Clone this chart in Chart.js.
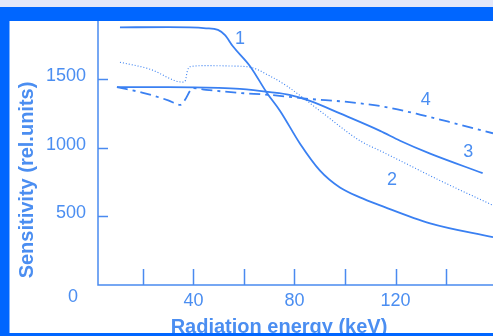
<!DOCTYPE html>
<html>
<head>
<meta charset="utf-8">
<script src="https://cdn.jsdelivr.net/npm/chart.js@4.4.0/dist/chart.umd.min.js"></script>
<style>
    html, body { margin: 0; padding: 0; background: #fff; }
    #wrap { width: 493px; height: 336px; position: relative; }
</style>
</head>
<body>
<div id="wrap"><canvas id="myChart"></canvas></div>
<script>
// curve 1 - solid, falls off after 50 keV
const energy1 = [10.9, 30, 45, 49.7, 52.5, 55.6, 62.4, 69.1, 74.3, 82.2, 90.1, 98, 105.9, 113.9, 133.7, 158.6];
const sens1 = [1877, 1878, 1870, 1858, 1820, 1739, 1594, 1399, 1268, 1029, 833, 710, 638, 580, 449, 348];

// dotted curve, with the edge near 37 keV
const energy2 = [10.9, 22.8, 35.8, 36.8, 37.6, 38.6, 45, 55, 62.4, 70.3, 77, 90.1, 105.9, 113.9, 121.8, 137.6, 158.6];
const sens2 = [1623, 1572, 1478, 1490, 1560, 1590, 1598, 1595, 1587, 1522, 1449, 1268, 1051, 978, 906, 761, 580];

// curve 3 - solid
const energy3 = [9.7, 30, 50, 58.4, 70.3, 78, 86.1, 98, 113.9, 121.8, 133.7, 154.5];
const sens3 = [1442, 1442, 1436, 1428, 1405, 1385, 1341, 1250, 1123, 1051, 957, 815];

// curve 4 - dash dot
const energy4 = [9.7, 20, 30, 34.7, 36.5, 39.8, 45, 58.4, 70, 86.1, 100, 115, 130, 145, 158.6];
const sens4 = [1442, 1400, 1345, 1312, 1345, 1435, 1422, 1399, 1385, 1355, 1335, 1300, 1240, 1170, 1105];

const yTicks = [500, 1000, 1500];
const xTicks = [20, 40, 60, 80, 100, 120, 140];
const xLabels = [40, 80, 120];

const curveLabels = ['1', '2', '3', '4'];
const labelAt = [[58.4, 1790], [118.6, 765], [148.8, 970], [132, 1345]];

const lineColor = '#3a80f2';
const textColor = '#4b8ef1';
const font = '"Liberation Sans", Arial, sans-serif';

function pts(xs, ys) {
    return xs.map((x, i) => ({x: x, y: ys[i]}));
}

let datasets = [
    {data: pts(energy1, sens1), borderWidth: 1.8},
    {data: pts(energy2, sens2), borderWidth: 1.1, borderDash: [1, 2]},
    {data: pts(energy3, sens3), borderWidth: 1.8},
    {data: pts(energy4, sens4), borderWidth: 1.8, borderDash: [11, 5, 3, 5]}
];
datasets.forEach(d => {
    d.borderColor = lineColor;
    d.fill = false;
    d.pointRadius = 0;
    d.cubicInterpolationMode = 'monotone';
});

const frame = {
    id: 'frame',
    beforeDraw(chart) {
        let ctx = chart.ctx;
        ctx.save();
        ctx.fillStyle = '#fff';
        ctx.fillRect(0, 0, chart.width, chart.height);
        ctx.restore();
    },
    afterDraw(chart) {
        let ctx = chart.ctx;
        let x = chart.scales.x, y = chart.scales.y;
        let area = chart.chartArea;
        ctx.save();

        // axes
        ctx.strokeStyle = '#4a8af0';
        ctx.lineWidth = 1.5;
        ctx.beginPath();
        ctx.moveTo(area.left, area.top);
        ctx.lineTo(area.left, area.bottom);
        ctx.lineTo(area.right, area.bottom);
        ctx.stroke();

        ctx.beginPath();
        yTicks.forEach(v => {
            let py = Math.round(y.getPixelForValue(v)) + 0.5;
            ctx.moveTo(area.left, py);
            ctx.lineTo(area.left + 10, py);
        });
        xTicks.forEach(v => {
            let px = Math.round(x.getPixelForValue(v)) + 0.5;
            ctx.moveTo(px, area.bottom);
            ctx.lineTo(px, area.bottom - 16);
        });
        ctx.stroke();

        // tick labels
        ctx.fillStyle = textColor;
        ctx.font = '18px ' + font;
        ctx.textAlign = 'right';
        ctx.textBaseline = 'middle';
        yTicks.forEach(v => {
            ctx.fillText(String(v), 86, y.getPixelForValue(v) - 3);
        });
        ctx.textAlign = 'center';
        ctx.fillText('0', 73, area.bottom + 12);
        xLabels.forEach(v => {
            ctx.fillText(String(v), x.getPixelForValue(v), area.bottom + 16);
        });

        // curve numbers
        curveLabels.forEach((t, i) => {
            ctx.fillText(t, x.getPixelForValue(labelAt[i][0]), y.getPixelForValue(labelAt[i][1]));
        });

        // axis titles
        ctx.font = 'bold 20px ' + font;
        ctx.fillText('Radiation energy (keV)', 279, 327);
        ctx.save();
        ctx.translate(27, 180);
        ctx.rotate(-Math.PI / 2);
        ctx.fillText('Sensitivity (rel.units)', 0, 0);
        ctx.restore();

        // page border
        ctx.fillStyle = '#e4e8f9';
        ctx.fillRect(0, 0, chart.width, 7);
        ctx.fillStyle = '#0066ff';
        ctx.fillRect(0, 7, chart.width, 14);
        ctx.fillRect(0, 7, 9.5, chart.height - 7);
        ctx.fillRect(0, 333, chart.width, 3);
        ctx.restore();
    }
};

new Chart('myChart', {
    type: 'line',
    data: {datasets: datasets},
    options: {
        responsive: true,
        maintainAspectRatio: false,
        animation: false,
        layout: {padding: {left: 98, top: 21, right: 0, bottom: 51}},
        plugins: {legend: {display: false}, tooltip: {enabled: false}},
        scales: {
            x: {type: 'linear', display: false, min: 2.2, max: 158.6},
            y: {display: false, min: 0, max: 1923}
        }
    },
    plugins: [frame]
});
</script>
</body>
</html>
